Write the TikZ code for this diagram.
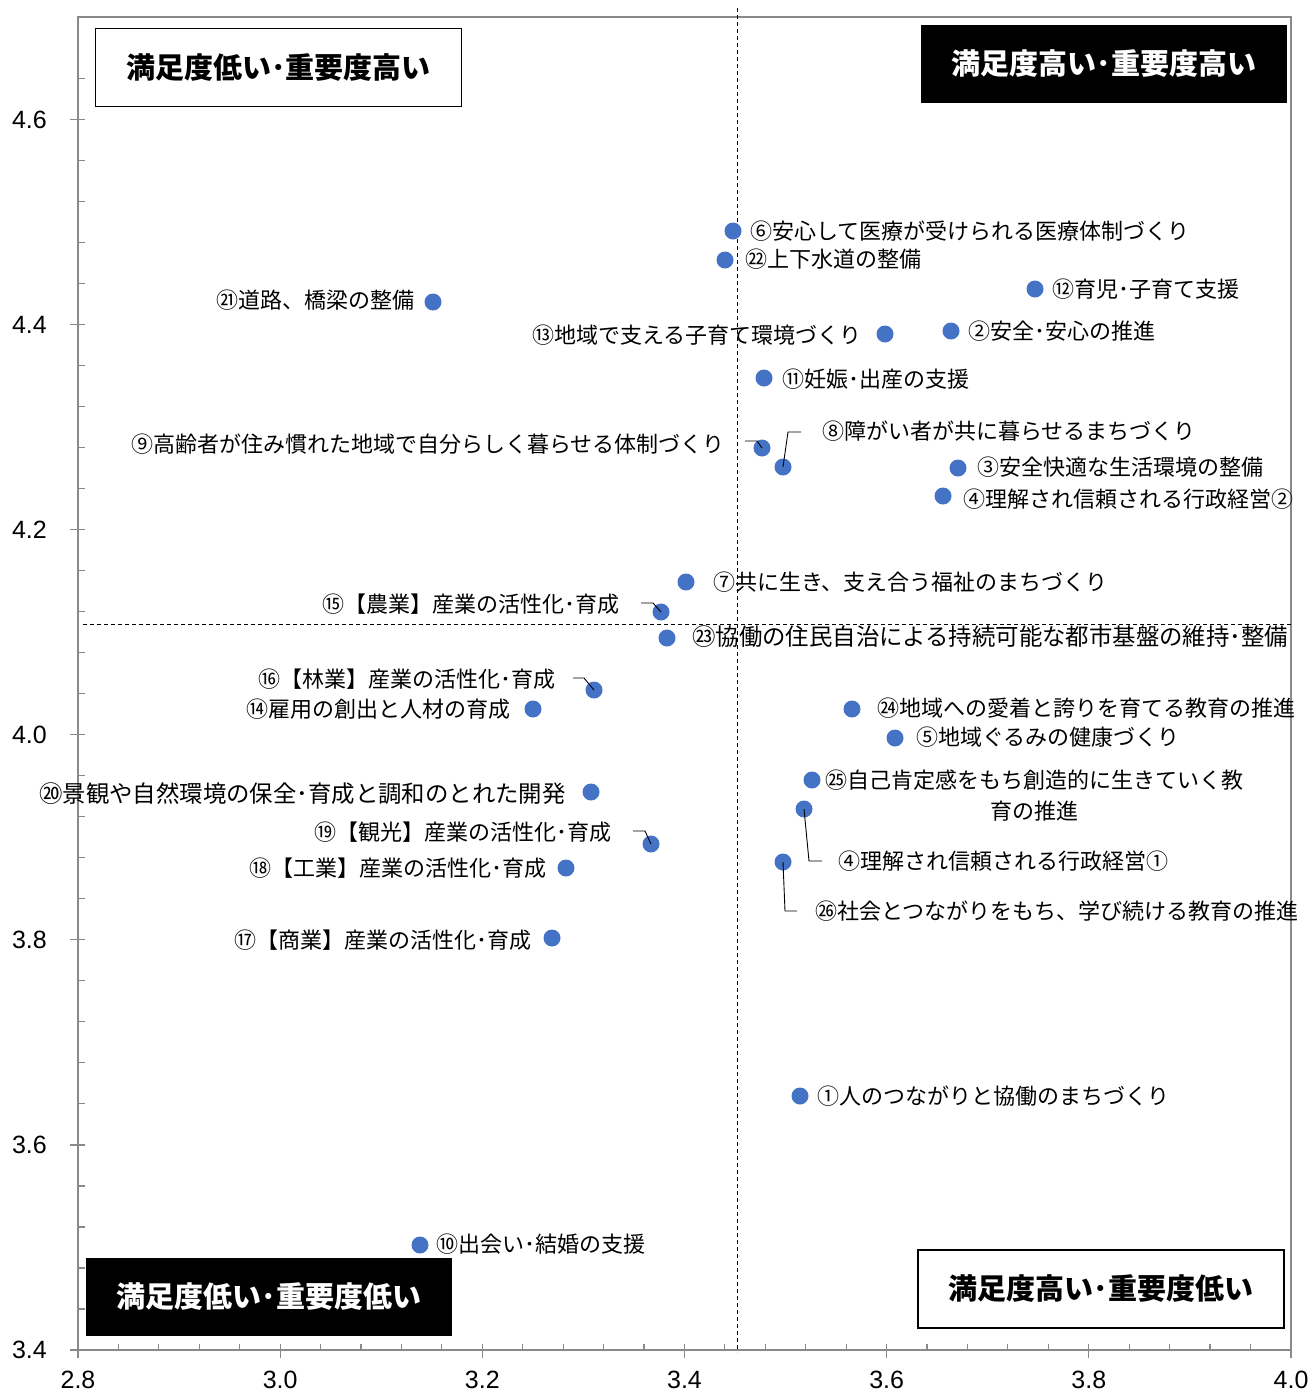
\documentclass[tikz,border=0pt]{standalone}
\usepackage{fontspec}
\setmainfont{Liberation Sans}
\newfontfamily\cjk{Noto Sans CJK JP}
\definecolor{dotblue}{HTML}{4472C4}
\definecolor{axisgray}{HTML}{898989}
\begin{document}
\begin{tikzpicture}[x=1pt,y=-1pt,
  dot/.style={circle,fill=dotblue,inner sep=0pt,minimum size=17pt},
  lab/.style={font=\cjk\fontsize{22}{31}\selectfont,inner sep=0pt,text=black},
  labw/.style={lab,anchor=west},
  labe/.style={lab,anchor=east},
  widefont/.style={font=\cjk\fontsize{23.4}{31}\selectfont},
  leader/.style={draw=black,line width=0.9pt},
  quad/.style={font=\cjk\bfseries\fontsize{29}{33}\selectfont,inner sep=0pt,minimum width=366pt,minimum height=78pt},
  quadw/.style={quad,draw=black,line width=1.5pt,fill=white,text=black},
  quadb/.style={quad,fill=black,text=white},
  ticklab/.style={font=\fontsize{25}{28}\selectfont,inner sep=0pt},
  axisline/.style={draw=axisgray,line width=1.5pt},
  tickline/.style={draw=axisgray,line width=1.2pt},
  divider/.style={draw=black,line width=1pt,dash pattern=on 4pt off 3pt}
]
\useasboundingbox (0,0) rectangle (1312,1393);
% frame
\coordinate (TL) at (78,17);
\coordinate (TR) at (1291,17);
\coordinate (BL) at (78,1350);
\coordinate (BR) at (1291,1350);
\draw[axisline] (TL) -- (TR) -- (BR) -- (BL) -- cycle;
% minor ticks
\foreach \i in {1,...,31}{
  \pgfmathsetmacro{\yy}{1350-\i*41.02}
  \draw[tickline] (78,\yy) -- (85,\yy);
}
\foreach \i in {1,...,29}{
  \pgfmathsetmacro{\xx}{78+\i*40.43}
  \draw[tickline] (\xx,1350) -- (\xx,1344);
}
% major ticks and labels
\foreach \v [count=\k from 0] in {3.4,3.6,3.8,4.0,4.2,4.4,4.6}{
  \pgfmathsetmacro{\yy}{1350-\k*205.1}
  \draw[tickline] (70,\yy) -- (85,\yy);
  \node[ticklab,anchor=east] (ty\k) at (47,\yy) {\v};
}
\foreach \v [count=\k from 0] in {2.8,3.0,3.2,3.4,3.6,3.8,4.0}{
  \pgfmathsetmacro{\xx}{78+\k*202.17}
  \draw[tickline] (\xx,1344) -- (\xx,1358);
  \node[ticklab] (tx\k) at (\xx,1380) {\v};
}
% dividers
\coordinate (vtop) at (737,8);
\coordinate (vbot) at (737,1352);
\coordinate (hl) at (83,624);
\coordinate (hr) at (1291,624);
\draw[divider] (vtop) -- (vbot);
\draw[divider] (hl) -- (hr);
% quadrant boxes
\node[quadw] (qLH) at (278.5,67.5) {満足度低い･重要度高い};
\node[quadb] (qHH) at (1104,63.5) {満足度高い･重要度高い};
\node[quadb] (qLL) at (269,1296.5) {満足度低い･重要度低い};
\node[quadw] (qHL) at (1101,1289) {満足度高い･重要度低い};
% points
\node[dot] (p6) at (733,231) {};
\node[dot] (p22) at (725,260) {};
\node[dot] (p12) at (1035,289) {};
\node[dot] (p21) at (433,302) {};
\node[dot] (p13) at (885,334) {};
\node[dot] (p2) at (951,331) {};
\node[dot] (p11) at (764,378) {};
\node[dot] (p9) at (762,448) {};
\node[dot] (p8) at (783,467) {};
\node[dot] (p3) at (958,468) {};
\node[dot] (p4b) at (943,496) {};
\node[dot] (p7) at (686,582) {};
\node[dot] (p15) at (661,612) {};
\node[dot] (p23) at (667,638) {};
\node[dot] (p16) at (594,690) {};
\node[dot] (p14) at (533,709) {};
\node[dot] (p24) at (852,709) {};
\node[dot] (p5) at (895,738) {};
\node[dot] (p25) at (812,780) {};
\node[dot] (p4a) at (804,809) {};
\node[dot] (p26) at (783,862) {};
\node[dot] (p20) at (591,792) {};
\node[dot] (p19) at (651,844) {};
\node[dot] (p18) at (566,868) {};
\node[dot] (p17) at (552,938) {};
\node[dot] (p1) at (800,1096) {};
\node[dot] (p10) at (420,1245) {};
% labels
\node[labw] (l6) at (750,231) {⑥安心して医療が受けられる医療体制づくり};
\node[labw] (l22) at (745,259) {㉒上下水道の整備};
\node[labw] (l12) at (1052,289) {⑫育児･子育て支援};
\node[labe] (l21) at (415,300) {㉑道路、橋梁の整備};
\node[labe] (l13) at (862,335) {⑬地域で支える子育て環境づくり};
\node[labw] (l2) at (968,331) {②安全･安心の推進};
\node[labw] (l11) at (782,379) {⑪妊娠･出産の支援};
\node[labe] (l9) at (725,444) {⑨高齢者が住み慣れた地域で自分らしく暮らせる体制づくり};
\node[labw] (l8) at (822,431) {⑧障がい者が共に暮らせるまちづくり};
\node[labw] (l3) at (977,467) {③安全快適な生活環境の整備};
\node[labw] (l4b) at (963,499) {④理解され信頼される行政経営②};
\node[labw] (l7) at (713,582) {⑦共に生き、支え合う福祉のまちづくり};
\node[labe] (l15) at (620,604) {⑮【農業】産業の活性化･育成};
\node[labw,widefont] (l23) at (692,637) {㉓協働の住民自治による持続可能な都市基盤の維持･整備};
\node[labe] (l16) at (556,679) {⑯【林業】産業の活性化･育成};
\node[labe] (l14) at (511,709) {⑭雇用の創出と人材の育成};
\node[labw] (l24) at (877,708) {㉔地域への愛着と誇りを育てる教育の推進};
\node[labw] (l5) at (916,737) {⑤地域ぐるみの健康づくり};
\node[lab,align=center] (l25) at (1034,795.5) {㉕自己肯定感をもち創造的に生きていく教\\育の推進};
\node[labw] (l4a) at (838,861) {④理解され信頼される行政経営①};
\node[labw] (l26) at (815,911) {㉖社会とつながりをもち、学び続ける教育の推進};
\node[labe,widefont] (l20) at (566,794) {⑳景観や自然環境の保全･育成と調和のとれた開発};
\node[labe] (l19) at (612,832) {⑲【観光】産業の活性化･育成};
\node[labe] (l18) at (547,868) {⑱【工業】産業の活性化･育成};
\node[labe] (l17) at (532,940) {⑰【商業】産業の活性化･育成};
\node[labw] (l1) at (817,1096) {①人のつながりと協働のまちづくり};
\node[labw] (l10) at (436,1244) {⑩出会い･結婚の支援};
% leaders
\coordinate (k9a) at (745,441); \coordinate (k9b) at (757,441);
\draw[leader] (k9a) -- (k9b) -- (p9.center);
\coordinate (k8a) at (788,432); \coordinate (k8b) at (801,432);
\draw[leader] (p8.center) -- (k8a) -- (k8b);
\coordinate (k15a) at (641,603); \coordinate (k15b) at (653,603);
\draw[leader] (k15a) -- (k15b) -- (p15.center);
\coordinate (k16a) at (573,678); \coordinate (k16b) at (584,678);
\draw[leader] (k16a) -- (k16b) -- (p16.center);
\coordinate (k19a) at (633,831); \coordinate (k19b) at (645,831);
\draw[leader] (k19a) -- (k19b) -- (p19.center);
\coordinate (k4a) at (809,861); \coordinate (k4b) at (822,861);
\draw[leader] (p4a.center) -- (k4a) -- (k4b);
\coordinate (k26a) at (785,911); \coordinate (k26b) at (797,911);
\draw[leader] (p26.center) -- (k26a) -- (k26b);
\end{tikzpicture}
\end{document}
